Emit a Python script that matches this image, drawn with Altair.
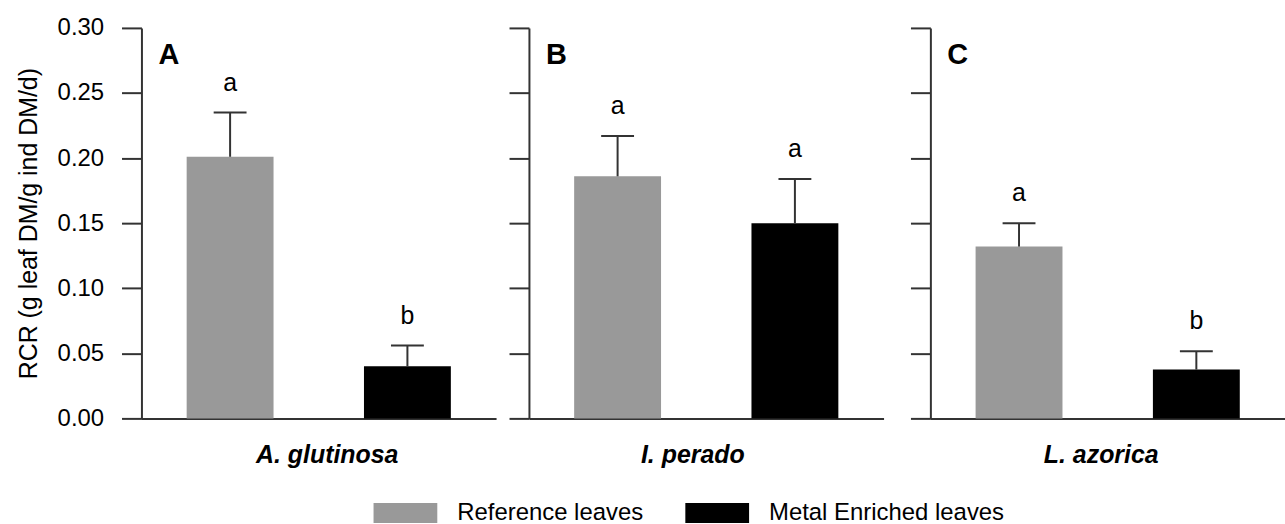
import altair as alt
import pandas as pd

species = ["A. glutinosa", "I. perado", "L. azorica"]
panel_letters = ["A", "B", "C"]
treatments = ["Reference leaves", "Metal Enriched leaves"]
ref_mean = [0.201, 0.186, 0.132]
ref_se = [0.034, 0.031, 0.018]
met_mean = [0.040, 0.150, 0.0375]
met_se = [0.016, 0.034, 0.014]
ref_sig = ["a", "a", "a"]
met_sig = ["b", "a", "b"]
y_ticks = [0, 0.05, 0.10, 0.15, 0.20, 0.25, 0.30]
colors = ["#999999", "#000000"]

FONT = "Liberation Sans"
W, H = 356, 392
title_x = [186, 164, 171]
AX = "#333333"


def panel(i):
    df = pd.DataFrame({
        "treatment": treatments,
        "mean": [ref_mean[i], met_mean[i]],
        "se": [ref_se[i], met_se[i]],
        "sig": [ref_sig[i], met_sig[i]],
    })
    df["top"] = df["mean"] + df["se"]
    first = i == 0

    xscale = alt.Scale(domain=treatments, paddingInner=0.51, paddingOuter=0.255)
    x = alt.X(
        "treatment:N", scale=xscale,
        axis=alt.Axis(
            title=species[i], labels=False, ticks=False, domain=True,
            domainColor=AX, domainWidth=2,
            titleFont=FONT, titleFontSize=25, titleFontWeight="bold",
            titleFontStyle="italic", titleColor="black",
            titleX=title_x[i], titleY=36, titleBaseline="middle", titleAlign="center",
        ),
    )
    yscale = alt.Scale(domain=[0, 0.3], nice=False, zero=True)
    if first:
        yaxis = alt.Axis(
            values=y_ticks, format=".2f", tickSize=20, tickWidth=2, tickColor=AX,
            domainColor=AX, domainWidth=2, grid=False,
            labelPadding=18, labelFont=FONT, labelFontSize=24, labelColor="black",
            title="RCR (g leaf DM/g ind DM/d)", titleFont=FONT, titleFontSize=25,
            titleFontWeight="normal", titleColor="black", titlePadding=16,
        )
    else:
        yaxis = alt.Axis(
            values=y_ticks, tickSize=20, tickWidth=2, tickColor=AX,
            domainColor=AX, domainWidth=2, grid=False, labels=False, title=None,
        )

    color = alt.Color(
        "treatment:N",
        scale=alt.Scale(domain=treatments, range=colors),
        legend=alt.Legend(
            title=None, orient="none", legendX=253, legendY=475,
            direction="horizontal",
            symbolType="M-3.2,-1L3.2,-1L3.2,1L-3.2,1Z", symbolSize=400,
            symbolStrokeWidth=0, symbolOpacity=1,
            labelFont=FONT, labelFontSize=24, labelColor="black", labelLimit=400,
            labelOffset=40, columnPadding=42, padding=0,
        ),
    )

    base = alt.Chart(df)
    bars = base.mark_bar().encode(
        x=x, y=alt.Y("mean:Q", scale=yscale, axis=yaxis), color=color
    )
    err = base.mark_rule(color=AX, strokeWidth=2).encode(
        x=x, y=alt.Y("mean:Q", scale=yscale, axis=yaxis), y2="top:Q"
    )
    cap = base.mark_tick(color=AX, thickness=2, size=33, opacity=1).encode(
        x=x, y=alt.Y("top:Q", scale=yscale, axis=yaxis)
    )
    sig = base.mark_text(dy=-30, fontSize=25, font=FONT, baseline="middle", color="black").encode(
        x=x, y=alt.Y("top:Q", scale=yscale, axis=yaxis), text="sig:N"
    )
    lab = alt.Chart(pd.DataFrame({"lab": [panel_letters[i]]})).mark_text(
        align="left", baseline="middle", fontSize=29, fontWeight="bold",
        font=FONT, color="black",
    ).encode(x=alt.value(17), y=alt.value(27), text="lab:N")

    layers = [bars, err, cap, sig, lab]
    if i == 1:
        spacer = alt.Chart(pd.DataFrame({"s": [0]})).mark_rule(opacity=0, strokeWidth=1).encode(
            x=alt.value(W), x2=alt.value(W + 14), y=alt.value(H)
        )
        layers.append(spacer)
    return alt.layer(*layers).properties(width=W, height=H)


chart = alt.hconcat(panel(0), panel(1), panel(2), spacing=12).properties(
    padding={"left": 16, "top": 15, "right": 0, "bottom": 0},
).configure_view(stroke=None)

chart.save("out.html", embed_options={"renderer": "svg", "actions": False})
